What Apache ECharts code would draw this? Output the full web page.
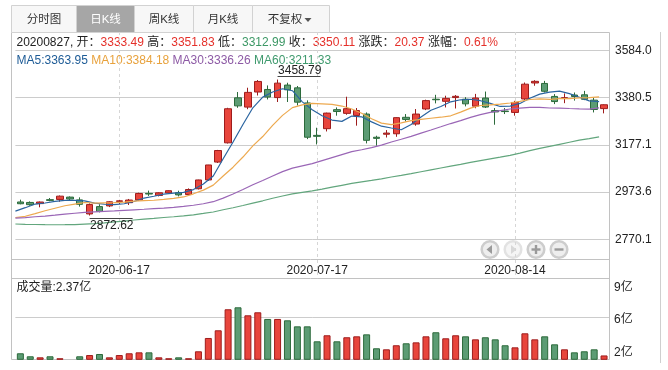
<!DOCTYPE html>
<html><head><meta charset="utf-8">
<script src="https://cdn.jsdelivr.net/npm/echarts@6/dist/echarts.min.js"></script>
<style>html,body{margin:0;padding:0;background:#fff}#c{width:668px;height:370px}</style>
</head><body><div id="c"></div>
<script>
const dates = ['2020-06-03','2020-06-04','2020-06-05','2020-06-08','2020-06-09','2020-06-10','2020-06-11','2020-06-12','2020-06-15','2020-06-16',
'2020-06-17','2020-06-18','2020-06-19','2020-06-22','2020-06-23','2020-06-24','2020-06-29','2020-06-30','2020-07-01','2020-07-02',
'2020-07-03','2020-07-06','2020-07-07','2020-07-08','2020-07-09','2020-07-10','2020-07-13','2020-07-14','2020-07-15','2020-07-16',
'2020-07-17','2020-07-20','2020-07-21','2020-07-22','2020-07-23','2020-07-24','2020-07-27','2020-07-28','2020-07-29','2020-07-30',
'2020-07-31','2020-08-03','2020-08-04','2020-08-05','2020-08-06','2020-08-07','2020-08-10','2020-08-11','2020-08-12','2020-08-13',
'2020-08-14','2020-08-17','2020-08-18','2020-08-19','2020-08-20','2020-08-21','2020-08-24','2020-08-25','2020-08-26','2020-08-27'];
const openP = [2931,2929,2924,2941,2942,2952,2940,2879.5,2911,2914,
2933.5,2928,2940,2968,2959,2970,2971,2963,2988,3026,
3103,3186,3380,3340,3405,3416,3381,3435,3423,3358,
3218,3247,3329,3313,3304,3310,3210,3223,3225,3296,
3267,3332,3374,3365,3381,3374,3344,3379,3325,3323,
3317,3375,3444,3442,3386,3377,3392,3393,3370,3333.49];
const closeP = [2923.37,2919.25,2930.80,2937.77,2956.11,2943.75,2920.90,2919.74,2890.03,2931.75,
2935.87,2939.32,2967.63,2965.27,2970.62,2979.55,2961.52,2984.67,3025.98,3090.57,
3152.81,3332.88,3345.34,3403.44,3450.59,3383.32,3443.29,3414.62,3361.30,3210.10,
3214.13,3314.15,3320.90,3333.16,3325.11,3196.77,3205.23,3227.96,3294.55,3286.82,
3310.01,3367.97,3371.69,3377.56,3386.46,3354.04,3379.25,3340.29,3319.27,3320.73,
3360.10,3438.80,3451.09,3408.13,3363.90,3380.68,3385.64,3373.58,3329.74,3350.11];
const lowP = [2921,2915,2908,2934,2932,2937,2911,2872.62,2886,2909,
2922,2918,2937,2957,2955,2965.5,2955,2961,2985,3022,
3099,3183,3337,3331,3390,3373,3362,3362,3347,3202,
3179,3235,3303,3307,3260,3183.5,3173.6,3209,3212,3278,
3259.7,3327,3356,3338.6,3334,3343,3335,3336,3264,3310,
3303,3370,3432,3403,3353,3357,3368,3370,3317,3312.99];
const highP = [2941,2933.5,2933,2948,2959,2955,2951,2925,2921,2934,
2940,2944,2971,2980,2972.4,2981,2979.6,2989.6,3027,3091,
3155.5,3337,3405,3423.5,3456.6,3433.4,3458.79,3445,3431,3369,
3251,3316,3338.6,3384.7,3336,3317,3216.6,3241,3296,3310,
3331.6,3372,3393,3389,3392,3383,3397,3407,3336,3336,
3367,3446,3456,3453,3396,3399,3403,3410,3382,3351.83];
const volume = [2.58,2.29,2.19,2.29,2.10,2.02,2.29,2.41,2.51,2.19,
2.41,2.58,2.67,2.67,2.19,2.10,2.19,2.10,2.77,4.05,
4.79,6.81,7.00,6.23,6.52,5.88,5.88,5.75,5.17,5.17,
3.73,4.31,3.73,4.12,4.21,4.40,3.06,2.96,3.35,3.54,
3.63,4.21,4.60,4.02,4.31,4.21,3.92,4.12,3.92,3.35,
3.15,4.50,3.92,4.21,3.44,2.96,2.67,2.77,2.96,2.37];
const ma5 = [2891.75,2906.36,2922.05,2926.52,2933.46,2937.54,2937.87,2935.65,2926.11,2921.23,
2919.66,2923.34,2932.92,2947.97,2955.74,2964.48,2968.92,2972.33,2984.47,3008.46,
3043.11,3117.38,3189.52,3265.01,3337.01,3383.11,3405.20,3419.05,3410.62,3362.53,
3328.69,3302.86,3284.12,3278.49,3301.49,3298.02,3276.23,3257.65,3249.92,3242.27,
3264.91,3297.46,3326.21,3342.81,3362.74,3371.54,3373.80,3367.52,3355.86,3342.72,
3343.93,3355.84,3378.00,3395.77,3404.40,3408.52,3397.89,3382.39,3366.71,3363.95];
const ma10 = [2864.18,2869.31,2881.01,2892.99,2903.95,2914.65,2922.11,2928.85,2926.31,2927.35,
2928.60,2930.60,2934.29,2937.04,2938.49,2942.07,2946.13,2952.62,2966.22,2982.10,
3003.79,3043.15,3080.92,3124.74,3172.74,3213.11,3261.29,3304.28,3337.82,3349.77,
3355.90,3354.03,3351.58,3344.56,3332.01,3313.35,3289.55,3270.88,3264.21,3271.88,
3281.47,3286.85,3291.93,3296.37,3302.50,3318.23,3335.63,3346.86,3349.34,3352.73,
3357.74,3364.82,3372.76,3375.82,3373.56,3376.22,3376.86,3380.19,3381.24,3384.18];
const ma30 = [2861.55,2863.78,2867.24,2870.36,2874.28,2878.79,2882.30,2885.96,2888.21,2890.60,
2892.52,2894.78,2897.19,2899.54,2902.17,2904.89,2907.93,2911.80,2916.82,2923.22,
2932.19,2947.69,2965.41,2984.93,3005.06,3023.28,3043.18,3061.92,3076.78,3086.41,
3096.10,3109.26,3122.26,3135.44,3147.74,3156.18,3165.66,3175.93,3189.41,3201.25,
3213.72,3228.01,3241.48,3255.22,3269.08,3281.56,3295.49,3307.34,3317.12,3324.79,
3331.70,3335.23,3338.76,3338.91,3336.02,3335.94,3334.01,3332.65,3331.59,3336.26];
const ma60 = [2836.05,2834.13,2833.92,2832.94,2832.73,2833.07,2833.63,2835.80,2837.64,2841.02,
2844.92,2848.15,2853.27,2857.32,2860.47,2864.05,2867.21,2871.17,2875.76,2881.69,
2887.89,2897.37,2906.11,2915.91,2926.32,2936.10,2947.10,2956.89,2966.06,2972.56,
2978.82,2986.51,2994.74,3002.90,3011.01,3017.48,3023.97,3030.94,3038.81,3045.92,
3053.12,3061.39,3069.33,3077.38,3085.63,3093.23,3101.71,3109.57,3116.97,3124.01,
3131.95,3141.46,3152.08,3161.92,3170.54,3179.61,3188.60,3197.28,3204.19,3211.33];
const priceTickValues = [2770.1, 2973.575, 3177.05, 3380.525, 3584.0];
const priceTickLabels = ['2770.1','2973.6','3177.1','3380.5','3584.0'];
const volTickValues = [2, 6, 9];
const volTickLabels = ['2亿','6亿','9亿'];
const volGridValue = 6;
const shownDates = ['2020-06-17','2020-07-17','2020-08-14'];
const tabNames = ['分时图','日K线','周K线','月K线','不复权'];

const FONT = "'Liberation Sans','Noto Sans CJK SC',sans-serif";
const RED_T = '#e5302a', GRN_T = '#3d9866', DARK = '#222';
const GRID_C = '#cccccc', FRAME_C = '#c2c2c2';
const UP_FILL = '#e8453c', UP_BORDER = '#9e1c1c', DN_FILL = '#5c9c74', DN_BORDER = '#2c6a3b';

const n = dates.length;
const L = n - 1;
const prev = closeP[L - 1];
const chg = closeP[L] - prev;
const pct = chg / prev * 100;
const col = v => (v >= prev ? 'r' : 'g');
const infoText = `{k|${dates[L].replace(/-/g, '')}, 开：}{${col(openP[L])}|${openP[L].toFixed(2)}} {k|高：}{${col(highP[L])}|${highP[L].toFixed(2)}} {k|低：}{${col(lowP[L])}|${lowP[L].toFixed(2)}} {k|收：}{${col(closeP[L])}|${closeP[L].toFixed(2)}} {k|涨跌：}{${chg >= 0 ? 'r' : 'g'}|${chg.toFixed(2)}} {k|涨幅：}{${chg >= 0 ? 'r' : 'g'}|${pct.toFixed(2)}%}`;
const maText = `{a|MA5:${ma5[L].toFixed(2)}} {b|MA10:${ma10[L].toFixed(2)}} {c|MA30:${ma30[L].toFixed(2)}} {d|MA60:${ma60[L].toFixed(2)}}`;
const fs = (c) => ({ fill: c, fontSize: 12, fontFamily: FONT });

// extremes for annotations
let hiIdx = 0, loIdx = 0;
for (let i = 0; i < n; i++) { if (highP[i] > highP[hiIdx]) hiIdx = i; if (lowP[i] < lowP[loIdx]) loIdx = i; }

const graphics = [];
graphics.push({ type: 'rect', z: -10, silent: true, shape: { x: 11.5, y: 32.5, width: 598, height: 327 }, style: { fill: 'none', stroke: FRAME_C, lineWidth: 1 } });
graphics.push({ type: 'line', z: -10, silent: true, shape: { x1: 11.5, y1: 259.5, x2: 609.5, y2: 259.5 }, style: { stroke: FRAME_C, lineWidth: 1 } });
graphics.push({ type: 'line', z: -10, silent: true, shape: { x1: 11.5, y1: 278.5, x2: 609.5, y2: 278.5 }, style: { stroke: FRAME_C, lineWidth: 1 } });
graphics.push({ type: 'line', z: -10, silent: true, shape: { x1: 660.5, y1: 32, x2: 660.5, y2: 363 }, style: { stroke: '#cfcfcf', lineWidth: 1 } });
// tabs
const tabEdges = [11.5, 76.5, 134.5, 193.5, 252.5, 329.5];
tabNames.forEach((t, i) => {
  const x0 = tabEdges[i], x1 = tabEdges[i + 1];
  graphics.push({ type: 'rect', silent: true, shape: { x: x0, y: 5.5, width: x1 - x0, height: 27 }, style: { fill: i === 1 ? '#a6a6a6' : '#f7f7f7', stroke: '#d2d2d2', lineWidth: 1 } });
  const cx = i === 4 ? (x0 + x1) / 2 - 6 : (x0 + x1) / 2;
  graphics.push({ type: 'text', silent: true, x: cx, y: 19.5, style: { text: t, fill: i === 1 ? '#ffffff' : '#333', fontSize: 11.5, fontFamily: FONT, align: 'center', verticalAlign: 'middle' } });
  if (i === 4) {
    graphics.push({ type: 'polygon', silent: true, shape: { points: [[304.5, 18], [311.5, 18], [308, 22]] }, style: { fill: '#555' } });
  }
});
// info + MA lines
graphics.push({ type: 'text', silent: true, x: 16.5, y: 43, style: { text: infoText, verticalAlign: 'middle', align: 'left', fontSize: 12, fontFamily: FONT, fill: DARK, rich: { k: fs(DARK), r: fs(RED_T), g: fs(GRN_T) } } });
graphics.push({ type: 'text', silent: true, x: 16.5, y: 61, style: { text: maText, verticalAlign: 'middle', align: 'left', fontSize: 12, fontFamily: FONT, fill: DARK, rich: { a: fs('#1d5b96'), b: fs('#e8a23d'), c: fs('#8d5aa5'), d: fs('#3f9a6e') } } });
graphics.push({ type: 'text', silent: true, x: 16.5, y: 288, style: { text: `成交量:${volume[L].toFixed(2)}亿`, fill: DARK, verticalAlign: 'middle', align: 'left', fontSize: 12, fontFamily: FONT } });
// zoom buttons
const btnX = [490, 513, 536, 559], btnY = 249.5;
btnX.forEach((cx, i) => {
  const dis = i === 1;
  graphics.push({ type: 'circle', silent: true, shape: { cx: cx, cy: btnY, r: 8.3 }, style: { fill: dis ? '#f5f5f5' : '#eeeeee', stroke: dis ? '#e2e2e2' : '#cdcdcd', lineWidth: 2.5 } });
  const ic = dis ? '#d8d8d8' : '#9a9a9a';
  if (i === 0) graphics.push({ type: 'polygon', silent: true, shape: { points: [[cx + 2, btnY - 4.5], [cx + 2, btnY + 4.5], [cx - 3.5, btnY]] }, style: { fill: ic } });
  if (i === 1) graphics.push({ type: 'polygon', silent: true, shape: { points: [[cx - 2, btnY - 4.5], [cx - 2, btnY + 4.5], [cx + 3.5, btnY]] }, style: { fill: ic } });
  if (i === 2 || i === 3) graphics.push({ type: 'rect', silent: true, shape: { x: cx - 4.5, y: btnY - 1.2, width: 9, height: 2.4 }, style: { fill: ic } });
  if (i === 2) graphics.push({ type: 'rect', silent: true, shape: { x: cx - 1.2, y: btnY - 4.5, width: 2.4, height: 9 }, style: { fill: ic } });
});

const upBar = { color: UP_FILL, borderColor: UP_BORDER, borderWidth: 1 };
const dnBar = { color: DN_FILL, borderColor: DN_BORDER, borderWidth: 1 };
const gridCommon = { containLabel: false, outerBoundsMode: 'none', show: false };
const maLine = (name, data, color) => ({
  name, type: 'line', xAxisIndex: 1, yAxisIndex: 0, data, symbol: 'none', showSymbol: false, silent: true, z: 3,
  lineStyle: { color, width: 1.2 }
});

const option = {
  animation: false,
  backgroundColor: '#ffffff',
  graphic: { elements: graphics },
  grid: [
    Object.assign({ left: 15.4, top: 50.5, width: 593.6, height: 188.8 }, gridCommon),
    Object.assign({ left: 15.4, top: 32, width: 593.6, height: 246.3 }, gridCommon),
    Object.assign({ left: 15.4, top: 278.3, width: 593.6, height: 81 }, gridCommon)
  ],
  xAxis: [
    { gridIndex: 0, type: 'category', data: dates, boundaryGap: true, show: false },
    { gridIndex: 0, type: 'category', data: dates.concat(['']), boundaryGap: false, show: false },
    { gridIndex: 1, type: 'category', data: dates, boundaryGap: true,
      axisLine: { show: false }, axisTick: { show: false }, splitLine: { show: false },
      axisLabel: { inside: true, margin: 2, interval: (i, v) => shownDates.includes(v), color: DARK, fontSize: 12, fontFamily: FONT } },
    { gridIndex: 2, type: 'category', data: dates, boundaryGap: true, show: false }
  ],
  yAxis: [
    { gridIndex: 0, type: 'value', min: priceTickValues[0], max: priceTickValues[priceTickValues.length - 1], show: false },
    { gridIndex: 1, type: 'value', min: 0, max: 1, show: false },
    { gridIndex: 2, type: 'value', position: 'right', min: 2, max: 9.7885, interval: 1,
      axisLine: { show: false }, axisTick: { show: false }, splitLine: { show: false },
      axisLabel: { margin: 5, color: DARK, fontSize: 12, fontFamily: FONT,
        formatter: (v) => { const k = volTickValues.findIndex(t => Math.abs(t - v) < 1e-6); return k < 0 ? '' : `{t${k}|${volTickLabels[k]}}`; },
        rich: {
          t0: { color: DARK, fontSize: 12, fontFamily: FONT, padding: [0, 0, 13, 0] },
          t1: { color: DARK, fontSize: 12, fontFamily: FONT, padding: [4, 0, 0, 0] },
          t2: { color: DARK, fontSize: 12, fontFamily: FONT, padding: [3, 0, 0, 0] }
        } } }
  ],
  series: [
    { type: 'custom', xAxisIndex: 2, yAxisIndex: 1, silent: true, z: 1,
      data: shownDates.map(d => [dates.indexOf(d), 0]),
      renderItem: (params, api) => {
        const x = Math.round(api.coord([api.value(0), 0])[0]) + 0.5;
        const cs = params.coordSys;
        return { type: 'line', shape: { x1: x, y1: cs.y, x2: x, y2: cs.y + cs.height }, style: { stroke: '#d6d6d6', lineDash: [3, 3], lineWidth: 1 } };
      } },
    { type: 'candlestick', xAxisIndex: 0, yAxisIndex: 0, silent: true, barWidth: 7, z: 2,
      data: dates.map((d, i) => [openP[i], closeP[i], lowP[i], highP[i]]),
      itemStyle: { color: UP_FILL, color0: DN_FILL, borderColor: UP_BORDER, borderColor0: DN_BORDER, borderWidth: 1 },
      markLine: { silent: true, z: 1, symbol: ['none', 'none'], animation: false,
        lineStyle: { color: GRID_C, type: 'solid', width: 1 },
        label: { show: true, position: 'end', distance: 6, color: DARK, fontSize: 12, fontFamily: FONT },
        data: priceTickValues.map((v, i) => ({ yAxis: v, label: { formatter: priceTickLabels[i] } })) } },
    maLine('MA5', ma5, '#2a64a0'),
    maLine('MA10', ma10, '#eda94f'),
    maLine('MA30', ma30, '#9a66b6'),
    maLine('MA60', ma60, '#62a67d'),
    { type: 'custom', xAxisIndex: 0, yAxisIndex: 0, silent: true, z: 4,
      data: [[hiIdx, highP[hiIdx], 1], [loIdx, lowP[loIdx], -1]],
      renderItem: (params, api) => {
        const p = api.coord([api.value(0), api.value(1)]);
        const up = api.value(2) > 0;
        const ly = up ? Math.round(p[1] - 3.5) + 0.5 : Math.round(p[1] + 2.5) + 0.5;
        const ty = up ? p[1] - 9 : p[1] + 10;
        return { type: 'group', children: [
          { type: 'line', shape: { x1: p[0], y1: ly, x2: p[0] + 43, y2: ly }, style: { stroke: '#444', lineWidth: 1 } },
          { type: 'text', x: p[0] + 0.5, y: ty, style: { text: api.value(1).toFixed(2), fill: DARK, fontSize: 12, fontFamily: FONT, align: 'left', verticalAlign: 'middle' } }
        ] };
      } },
    { type: 'bar', xAxisIndex: 3, yAxisIndex: 2, silent: true, barWidth: 7, z: 2,
      data: volume.map((v, i) => ({ value: v, itemStyle: closeP[i] >= openP[i] ? upBar : dnBar })),
      markLine: { silent: true, z: 1, symbol: ['none', 'none'], animation: false, label: { show: false },
        lineStyle: { color: GRID_C, type: 'solid', width: 1 }, data: [{ yAxis: volGridValue }] } }
  ]
};
const chart = echarts.init(document.getElementById('c'), null, { renderer: 'canvas' });
chart.setOption(option);
</script></body></html>
